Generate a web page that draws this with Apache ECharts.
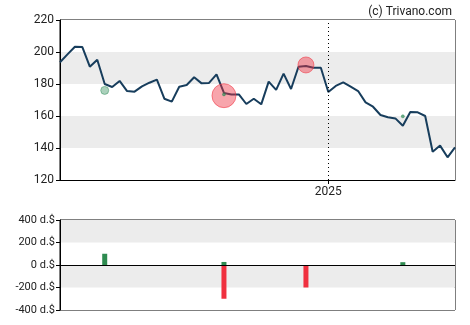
<!DOCTYPE html>
<html>
<head>
<meta charset="utf-8">
<script src="https://cdn.jsdelivr.net/npm/echarts@6/dist/echarts.min.js"></script>
<style>
  html, body { margin: 0; padding: 0; background: #fff; }
  #chart { width: 470px; height: 325px; }
</style>
</head>
<body>
<div id="chart"></div>
<script>
// Weekly closing prices
const prices = [
  193.6, 198.5, 203.3, 203.1, 190.8, 195.2, 180.0, 178.1, 181.9, 175.6,
  175.2, 178.5, 180.8, 182.7, 170.8, 169.0, 178.3, 179.4, 184.2, 180.4,
  180.7, 186.0, 174.4, 173.5, 173.5, 167.5, 170.8, 167.3, 181.5, 176.3,
  186.5, 176.9, 190.8, 191.3, 190.2, 190.2, 175.0, 178.8, 181.0, 178.3,
  175.6, 168.5, 165.8, 160.6, 159.2, 158.5, 153.9, 162.5, 162.3, 160.0,
  137.7, 141.5, 134.2, 140.4
];

// Week start dates (categories)
const weekStart = new Date(Date.UTC(2024, 3, 26));
const weeks = prices.map((_, i) => {
  const d = new Date(weekStart.getTime() + i * 7 * 86400000);
  return d.toISOString().slice(0, 10);
});

// Year marker on the time axis
const yearLabel = '2025';
const yearIndex = 36;

// Insider trades: week index, trade price, net amount
const buyIdx = [6, 22, 46];
const buyPrice = [176.0, 173.5, 159.8];
const buyAmount = [100, 27, 25];

const sellIdx = [22, 33];
const sellPrice = [172.7, 191.9];
const sellAmount = [-300, -200];

// Axis ticks
const priceTicks = { min: 120, max: 220, interval: 20 };
const flowTicks = { min: -400, max: 400, interval: 200 };

const buyBars = weeks.map(() => null);
buyIdx.forEach((k, j) => { buyBars[k] = buyAmount[j]; });
const sellBars = weeks.map(() => null);
sellIdx.forEach((k, j) => { sellBars[k] = sellAmount[j]; });

const buyPoints = buyIdx.map((k, j) => [weeks[k], buyPrice[j], buyAmount[j]]);
const sellPoints = sellIdx.map((k, j) => [weeks[k], sellPrice[j], sellAmount[j]]);

const font = 'Roboto, "Liberation Sans", Arial, sans-serif';

const chart = echarts.init(document.getElementById('chart'));
chart.setOption({
  animation: false,
  backgroundColor: '#fff',
  title: {
    text: '(c) Trivano.com',
    right: 13, top: 1,
    textStyle: { fontFamily: font, fontSize: 12, fontWeight: 'normal', color: '#222' }
  },
  grid: [
    { left: 60, right: 15, top: 20, height: 160, show: true, borderColor: '#000', borderWidth: 1, backgroundColor: 'transparent' },
    { left: 60, right: 15, top: 220, height: 90, show: true, borderColor: '#000', borderWidth: 1, backgroundColor: 'transparent' }
  ],
  xAxis: [
    {
      type: 'category', gridIndex: 0, data: weeks, boundaryGap: false,
      axisLine: { lineStyle: { color: '#000' } },
      axisTick: { show: true, length: 4, lineStyle: { color: '#000' }, interval: (i) => i === yearIndex },
      axisLabel: {
        interval: (i) => i === yearIndex,
        formatter: () => yearLabel,
        fontFamily: font, fontSize: 12, color: '#222', margin: 6
      },
      splitLine: { show: false }
    },
    {
      type: 'category', gridIndex: 1, data: weeks, boundaryGap: false,
      axisLine: { show: false },
      axisTick: { show: false },
      axisLabel: { show: false },
      splitLine: { show: false }
    }
  ],
  yAxis: [
    {
      type: 'value', gridIndex: 0,
      min: priceTicks.min, max: priceTicks.max, interval: priceTicks.interval,
      axisLine: { show: true, lineStyle: { color: '#000' } },
      axisTick: { show: true, length: 4, lineStyle: { color: '#000' } },
      axisLabel: { fontFamily: font, fontSize: 12, color: '#222', margin: 6 },
      splitLine: { show: false },
      splitArea: { show: true, areaStyle: { color: ['#ffffff', '#ececec'] } }
    },
    {
      type: 'value', gridIndex: 1,
      min: flowTicks.min, max: flowTicks.max, interval: flowTicks.interval,
      axisLine: { show: true, lineStyle: { color: '#000' } },
      axisTick: { show: true, length: 4, lineStyle: { color: '#000' } },
      axisLabel: { fontFamily: font, fontSize: 11, color: '#222', margin: 5, formatter: (v) => v + ' d.$' },
      splitLine: { show: false },
      splitArea: { show: true, areaStyle: { color: ['#ffffff', '#ececec'] } }
    }
  ],
  series: [
    {
      type: 'line', xAxisIndex: 0, yAxisIndex: 0, data: prices,
      symbol: 'none', z: 3,
      lineStyle: { color: '#173d5c', width: 2 },
      markLine: {
        silent: true, symbol: 'none', label: { show: false },
        lineStyle: { color: '#000', type: [1, 3], width: 1 },
        data: [{ xAxis: yearIndex }]
      }
    },
    {
      type: 'scatter', xAxisIndex: 0, yAxisIndex: 0, data: sellPoints, z: 4,
      symbolSize: (d) => Math.abs(d[2]) * 0.08,
      itemStyle: { color: 'rgba(240,50,65,0.55)', borderColor: 'rgba(240,50,65,0.7)', borderWidth: 1 }
    },
    {
      type: 'scatter', xAxisIndex: 0, yAxisIndex: 0, data: buyPoints, z: 5,
      symbolSize: (d) => Math.max(Math.abs(d[2]) * 0.08, 3),
      itemStyle: {
        color: (p) => Math.abs(p.data[2]) < 50 ? 'rgba(46,139,87,0.85)' : 'rgba(46,139,87,0.5)',
        borderColor: 'rgba(46,139,87,0.6)', borderWidth: 1
      }
    },
    {
      type: 'bar', xAxisIndex: 1, yAxisIndex: 1, data: buyBars,
      barWidth: 5, barGap: '-100%', itemStyle: { color: '#2e8b50' },
      markLine: {
        silent: true, symbol: 'none', label: { show: false },
        lineStyle: { color: '#000', type: 'solid', width: 1 },
        data: [{ yAxis: 0 }]
      }
    },
    {
      type: 'bar', xAxisIndex: 1, yAxisIndex: 1, data: sellBars,
      barWidth: 5, barGap: '-100%', itemStyle: { color: '#f0303f' }
    }
  ]
});
</script>
</body>
</html>
